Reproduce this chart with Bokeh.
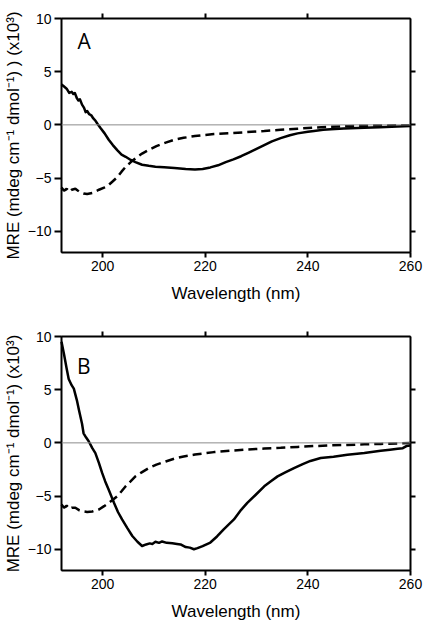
from bokeh.plotting import figure
from bokeh.models import LinearAxis, FixedTicker, Span, Range1d, Label
from bokeh.layouts import column
from bokeh.embed import file_html
from bokeh.resources import INLINE

# ---------------- data ----------------
x_ticks = [200, 220, 240, 260]
y_ticks = [-10, -5, 0, 5, 10]
x_ticks_top = [200, 220, 240]
y_ticks_right = [-10, -5, 0, 5]

wl_a_solid = [192, 192.5, 193, 193.5, 194, 194.3, 194.6, 195, 195.3, 195.6, 196, 196.4, 196.7,
              197, 197.4, 197.8, 198.2, 198.6, 199, 199.6, 200.4, 201.2, 202, 202.9, 203.7,
              204.5, 205.5, 206.4, 207.7, 209, 210.3, 212, 214, 216.2, 218, 219.5, 221, 222.5,
              224, 225.5, 227, 228.5, 230, 231.5, 233, 234.7, 236.5, 238, 240, 241.2, 243,
              244.5, 247, 251, 254, 257.5, 260]
mre_a_solid = [3.8, 3.6, 3.4, 3.0, 3.1, 2.9, 3.0, 2.5, 2.3, 2.4, 1.9, 1.6, 1.2,
               1.3, 1.0, 0.9, 0.6, 0.4, 0.1, -0.3, -0.8, -1.4, -1.9, -2.4, -2.8,
               -3.0, -3.3, -3.5, -3.75, -3.85, -3.93, -3.98, -4.05, -4.15, -4.2, -4.15, -4.0, -3.8,
               -3.5, -3.25, -2.95, -2.6, -2.25, -1.9, -1.55, -1.25, -0.98, -0.8, -0.65, -0.57, -0.47,
               -0.41, -0.35, -0.28, -0.22, -0.16, -0.1]

wl_a_dash = [192, 192.5, 193, 193.5, 194, 194.7, 195.5, 196.3, 197, 198, 199.3, 200.3, 201.2,
             202, 202.9, 203.7, 204.5, 205.5, 206.4, 207.7, 209, 210.5, 212.3, 214, 215.8,
             218, 220, 221.7, 225, 228.2, 231.5, 234.7, 238, 241.2, 244.5, 247.7, 251,
             254.2, 257.5, 260]
mre_a_dash = [-5.9, -6.2, -6.0, -6.3, -6.1, -6.0, -6.3, -6.45, -6.5, -6.4, -6.1, -5.9, -5.65,
              -5.3, -4.9, -4.4, -3.95, -3.5, -3.15, -2.7, -2.35, -2.0, -1.67, -1.4, -1.22,
              -1.05, -0.95, -0.87, -0.78, -0.68, -0.58, -0.47, -0.36, -0.26, -0.18, -0.12, -0.08,
              -0.06, -0.04, -0.03]

wl_b_solid = [192, 192.5, 193, 193.4, 194, 194.4, 195, 195.4, 196, 196.3, 196.8, 197.3, 198,
              198.6, 199.3, 199.9, 200.5, 201.2, 202.2, 203, 203.8, 204.8, 205.8, 206.8, 207.7,
              208.5, 209.2, 209.7, 210.3, 211, 211.6, 212.5, 213.6, 214.5, 215.2, 216.2, 217,
              217.8, 218.5, 219.5, 221, 222.3, 223.6, 225.6, 227, 228.2, 229.8, 231.5, 232.8,
              234.1, 235.7, 237.3, 239, 240.5, 242.5, 245, 247.7, 251, 254.2, 256, 257.5,
              258.5, 259.2, 260]
mre_b_solid = [9.5, 8.3, 7.0, 6.0, 5.4, 5.1, 4.0, 3.1, 1.8, 0.9, 0.5, 0.15, -0.5,
               -0.96, -1.9, -2.8, -3.6, -4.4, -5.6, -6.5, -7.2, -8.0, -8.76, -9.3, -9.7,
               -9.55, -9.45, -9.5, -9.3, -9.4, -9.27, -9.4, -9.44, -9.5, -9.55, -9.8, -9.85,
               -10.0, -9.9, -9.7, -9.37, -8.8, -8.13, -7.2, -6.3, -5.64, -4.9, -4.08, -3.6,
               -3.15, -2.75, -2.37, -2.0, -1.7, -1.43, -1.3, -1.12, -0.95, -0.75, -0.65, -0.56,
               -0.5, -0.3, -0.25]

wl_b_dash = [192, 192.5, 193, 193.5, 194, 194.7, 195.5, 196.3, 197, 198, 199.3, 200.3, 201.2,
             202, 202.9, 203.7, 204.5, 205.5, 206.4, 207.7, 209, 210.5, 212.3, 214, 215.8,
             218, 220, 221.7, 225, 228.2, 231.5, 234.7, 238, 241.2, 244.5, 247.7, 251,
             254.2, 257.5, 260]
mre_b_dash = [-5.8, -6.1, -5.9, -6.2, -6.1, -6.1, -6.35, -6.45, -6.5, -6.45, -6.26, -5.95, -5.64,
              -5.35, -5.0, -4.55, -4.08, -3.6, -3.15, -2.75, -2.37, -2.05, -1.75, -1.48, -1.28,
              -1.1, -0.98, -0.87, -0.74, -0.62, -0.54, -0.47, -0.38, -0.3, -0.24, -0.19, -0.14,
              -0.1, -0.06, -0.02]

ylabel_a = "MRE (mdeg cm\u207b\u00b9 dmol\u207b\u00b9) ) (x10\u00b3)"
ylabel_b = "MRE (mdeg cm\u207b\u00b9 dmol\u207b\u00b9) (x10\u00b3)"
xlabel = "Wavelength (nm)"

FONT = "Liberation Sans"


def make_axis(ticks, tick_out, label=None, blank=False):
    ax = LinearAxis(ticker=FixedTicker(ticks=ticks))
    ax.axis_line_width = 2
    ax.major_tick_line_width = 2
    ax.major_tick_in = 0
    ax.major_tick_out = tick_out
    ax.minor_tick_out = 0
    ax.minor_tick_in = 0
    if blank:
        ax.major_label_overrides = {t: "" for t in ticks}
        ax.major_label_text_font_size = "1px"
        ax.major_label_standoff = 0
    else:
        ax.major_label_text_font = FONT
        ax.major_label_text_font_size = "14px"
        ax.major_label_text_color = "black"
    if label is not None:
        ax.axis_label = label
        ax.axis_label_text_font = FONT
        ax.axis_label_text_font_size = "17px"
        ax.axis_label_text_font_style = "normal"
        ax.axis_label_text_color = "black"
    return ax


def panel(wl_s, v_s, wl_d, v_d, ylabel, letter, letter_x, letter_y, top, bottom, xl_standoff):
    p = figure(width=425, height=312, x_range=Range1d(192, 260), y_range=Range1d(-12, 10),
               output_backend="svg", toolbar_location=None,
               x_axis_location=None, y_axis_location=None,
               min_border_left=61, min_border_right=15, min_border_top=top,
               min_border_bottom=bottom)
    p.grid.visible = False
    p.outline_line_color = "black"
    p.outline_line_width = 1

    xa = make_axis(x_ticks, 5, xlabel)
    xa.major_label_standoff = 3
    xa.axis_label_standoff = xl_standoff
    ya = make_axis(y_ticks, 7, ylabel)
    ya.major_label_standoff = 3
    ya.axis_label_standoff = 2
    ta = make_axis(x_ticks_top, 5, blank=True)
    ra = make_axis(y_ticks_right, 5, blank=True)
    p.add_layout(xa, "below")
    p.add_layout(ya, "left")
    p.add_layout(ta, "above")
    p.add_layout(ra, "right")

    # thin zero reference line (solid, light) drawn last
    p.add_layout(Span(location=0, dimension="width", line_color="#8c8c8c",
                      line_width=1, level="overlay"))

    p.line(wl_d, v_d, line_color="black", line_width=2.5, line_dash="9 5", level="overlay")
    p.line(wl_s, v_s, line_color="black", line_width=2.5, line_join="round", level="overlay")

    p.add_layout(Label(x=letter_x, y=letter_y, text=letter, text_font="Open Sans",
                       text_font_size="21px", text_color="black", text_baseline="alphabetic"))
    return p


pa = panel(wl_a_solid, mre_a_solid, wl_a_dash, mre_a_dash, ylabel_a, "A", 195.1, 7.9, 18, 60, 10)
pb = panel(wl_b_solid, mre_b_solid, wl_b_dash, mre_b_dash, ylabel_b, "B", 195.0, 7.2, 24, 54, 10)

layout = column(pa, pb, spacing=0)
open("out.html", "w").write(file_html(layout, INLINE))
